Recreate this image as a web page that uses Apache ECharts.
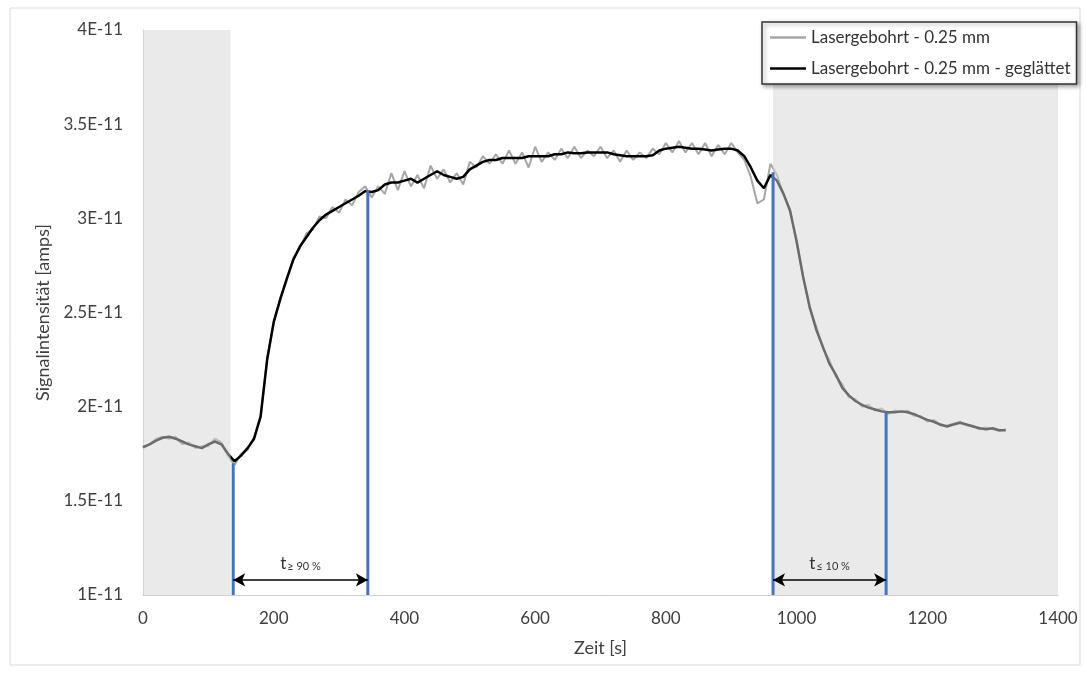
<!DOCTYPE html>
<html>
<head>
<meta charset="utf-8">
<script src="https://cdn.jsdelivr.net/npm/echarts@6/dist/echarts.min.js"></script>
<style>
html,body{margin:0;padding:0;background:#fff;}
#chart{width:1086px;height:679px;}
</style>
</head>
<body>
<div id="chart"></div>
<script>
// time axis (s), step 10 s
const timeS = [];
for (let t = 0; t <= 1320; t += 10) timeS.push(t);

// signal in units of 1E-11 A (raw)
const rawSignal = [
1.78,1.80,1.83,1.84,1.83,1.84,1.80,1.81,1.78,1.79,
1.79,1.83,1.81,1.74,1.69,1.75,1.77,1.84,1.94,2.26,
2.44,2.58,2.67,2.79,2.84,2.92,2.94,3.01,3.00,3.06,
3.03,3.10,3.07,3.14,3.17,3.11,3.17,3.13,3.24,3.15,
3.25,3.17,3.23,3.16,3.28,3.21,3.26,3.19,3.24,3.18,
3.30,3.27,3.33,3.29,3.34,3.29,3.36,3.29,3.35,3.27,
3.38,3.30,3.35,3.31,3.37,3.32,3.38,3.32,3.36,3.33,
3.38,3.32,3.36,3.30,3.36,3.31,3.35,3.32,3.37,3.34,
3.40,3.35,3.41,3.35,3.40,3.34,3.40,3.33,3.39,3.34,
3.40,3.35,3.31,3.22,3.08,3.10,3.29,3.23,3.13,3.05,
2.87,2.69,2.52,2.43,2.31,2.25,2.16,2.12,2.05,2.04,
2.00,2.01,1.98,1.99,1.96,1.98,1.97,1.98,1.95,1.95,
1.92,1.93,1.90,1.90,1.91,1.92,1.90,1.90,1.88,1.89,
1.88,1.87,1.88
];

// smoothed signal in units of 1E-11 A
const smoothSignal = [
1.785,1.80,1.82,1.835,1.84,1.83,1.815,1.80,1.79,1.78,
1.80,1.815,1.80,1.75,1.71,1.74,1.78,1.83,1.95,2.25,
2.45,2.57,2.68,2.78,2.85,2.90,2.95,2.99,3.02,3.04,
3.06,3.08,3.10,3.12,3.145,3.14,3.15,3.18,3.19,3.19,
3.20,3.21,3.19,3.21,3.23,3.25,3.23,3.22,3.21,3.22,
3.26,3.28,3.30,3.31,3.31,3.32,3.32,3.32,3.32,3.33,
3.33,3.33,3.33,3.34,3.34,3.35,3.345,3.345,3.35,3.35,
3.35,3.35,3.34,3.335,3.33,3.33,3.33,3.33,3.335,3.36,
3.37,3.375,3.38,3.375,3.37,3.37,3.365,3.36,3.365,3.37,
3.37,3.36,3.33,3.27,3.20,3.16,3.23,3.20,3.13,3.04,
2.88,2.69,2.53,2.41,2.32,2.23,2.17,2.10,2.06,2.03,
2.01,1.995,1.985,1.975,1.97,1.97,1.975,1.97,1.96,1.945,
1.93,1.92,1.905,1.895,1.905,1.915,1.905,1.895,1.885,1.88,
1.885,1.875,1.875
];

// shaded time windows (s)
const shadeWindows = [[0, 134], [964, 1400]];
// vertical marker lines: time (s) and top value (1E-11 A)
const markerTimes = [138, 344, 964, 1137];
const markerTops = [1.70, 3.15, 3.245, 1.97];
// interval arrows
const arrowSpans = [[138, 344], [964, 1137]];
const arrowLabels = ['≥ 90 %', '≤ 10 %'];
const arrowLevel = 1.08;

const yTicks = { min: 1, max: 4, interval: 0.5 };
const xTicks = { min: 0, max: 1400, interval: 200 };

const FONT = 'Lato';
const TXT = '#404040';

const rawData = timeS.map((t, i) => [t, rawSignal[i]]);
const smoothData = timeS.map((t, i) => [t, smoothSignal[i]]);

const series = [
  {
    name: 'Lasergebohrt - 0.25 mm',
    type: 'line', data: rawData, symbol: 'none', z: 2,
    lineStyle: { color: '#a6a6a6', width: 2 }, itemStyle: { color: '#a6a6a6' }
  },
  {
    name: 'Lasergebohrt - 0.25 mm - geglättet',
    type: 'line', data: smoothData, symbol: 'none', z: 3,
    lineStyle: { color: '#000000', width: 2.5 }, itemStyle: { color: '#000000' }
  },
  {
    name: 'shade', type: 'line', data: [], z: 10,
    markArea: {
      z: 10, silent: true,
      itemStyle: { color: 'rgba(214,214,214,0.5)' },
      data: shadeWindows.map(w => [{ xAxis: w[0], yAxis: yTicks.min }, { xAxis: w[1], yAxis: yTicks.max }])
    }
  }
];
markerTimes.forEach((t, i) => {
  series.push({
    name: 'marker' + i, type: 'line', symbol: 'none', z: 12,
    data: [[t, yTicks.min], [t, markerTops[i]]],
    lineStyle: { color: '#4472C4', width: 3 }
  });
});
series.push({
  name: 'arrows', type: 'line', data: [], z: 13,
  markLine: {
    z: 13, silent: true,
    symbol: ['arrow', 'arrow'], symbolSize: [10, 12],
    lineStyle: { color: '#000', width: 1.5, type: 'solid' },
    label: {
      show: true, position: 'middle', distance: 8,
      formatter: p => '{t|t}{s|' + p.name + '}',
      rich: {
        t: { fontFamily: FONT, fontSize: 17, color: '#333', verticalAlign: 'bottom' },
        s: { fontFamily: FONT, fontSize: 11, color: '#333', verticalAlign: 'bottom', padding: [0, 0, 0, 1] }
      }
    },
    data: arrowSpans.map((s, i) => [
      { coord: [s[0], arrowLevel], name: arrowLabels[i] },
      { coord: [s[1], arrowLevel] }
    ])
  }
});

const chart = echarts.init(document.getElementById('chart'));
chart.setOption({
  animation: false,
  backgroundColor: '#fff',
  textStyle: { fontFamily: FONT },
  graphic: [{
    type: 'rect', z: -10,
    shape: { x: 10, y: 8, width: 1070, height: 657 },
    style: { fill: 'none', stroke: '#d9d9d9', lineWidth: 1 }
  }],
  grid: { left: 143, right: 28, top: 30, bottom: 84 },
  legend: {
    z: 30,
    orient: 'vertical', left: 762, top: 22,
    data: ['Lasergebohrt - 0.25 mm', 'Lasergebohrt - 0.25 mm - geglättet'],
    icon: 'rect',
    itemWidth: 36, itemHeight: 2.5, itemGap: 14,
    padding: [7, 6, 7, 8],
    backgroundColor: '#fff', borderColor: '#333', borderWidth: 1.5,
    shadowColor: 'rgba(0,0,0,0.35)', shadowBlur: 4, shadowOffsetX: 2, shadowOffsetY: 2,
    textStyle: { fontFamily: FONT, fontSize: 17, color: '#333' }
  },
  xAxis: {
    type: 'value', min: xTicks.min, max: xTicks.max, interval: xTicks.interval,
    name: 'Zeit [s]', nameLocation: 'middle', nameGap: 44,
    nameTextStyle: { fontFamily: FONT, fontSize: 18, color: TXT },
    axisLine: { show: true, lineStyle: { color: '#d0d0d0', width: 1 } },
    axisTick: { show: false },
    splitLine: { show: false },
    axisLabel: { fontFamily: FONT, fontSize: 17, color: TXT, margin: 15, formatter: v => String(v) }
  },
  yAxis: {
    type: 'value', min: yTicks.min, max: yTicks.max, interval: yTicks.interval,
    name: 'Signalintensität [amps]', nameLocation: 'middle', nameGap: 88,
    nameTextStyle: { fontFamily: FONT, fontSize: 18, color: TXT },
    axisLine: { show: true, lineStyle: { color: '#d0d0d0', width: 1 } },
    axisTick: { show: false },
    splitLine: { show: false },
    axisLabel: { fontFamily: FONT, fontSize: 17, color: TXT, margin: 20, formatter: v => v + 'E-11' }
  },
  series: series
});
</script>
</body>
</html>
